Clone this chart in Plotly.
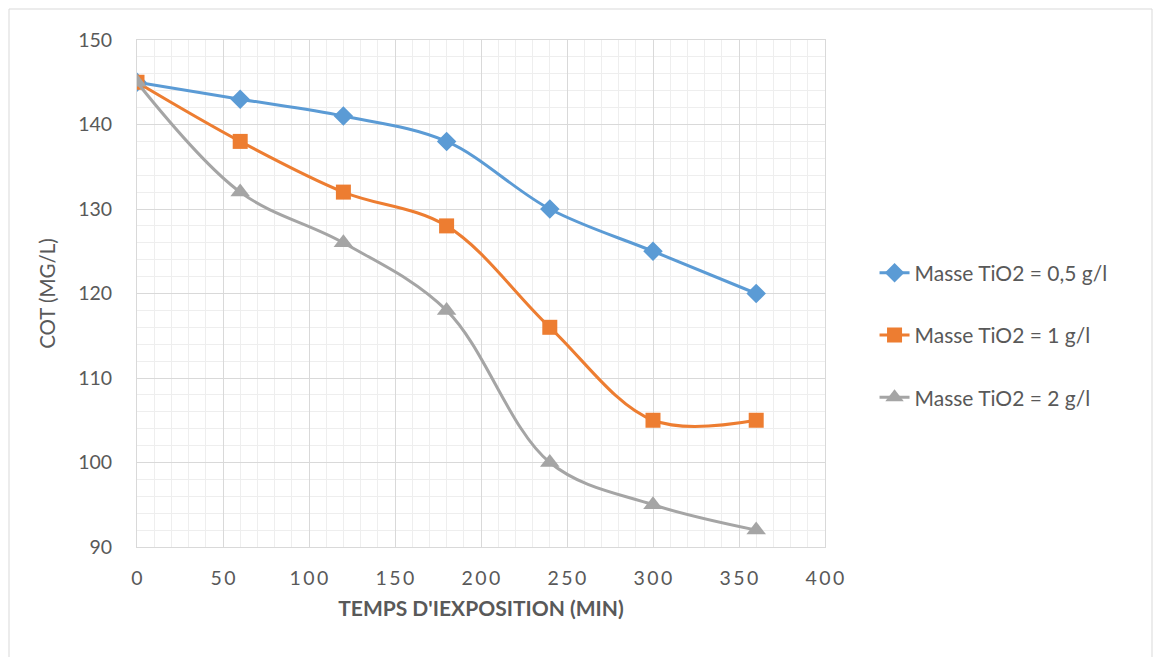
import plotly.graph_objects as go

time_min = [0, 60, 120, 180, 240, 300, 360]
cot_05 = [145, 143, 141, 138, 130, 125, 120]
cot_1 = [145, 138, 132, 128, 116, 105, 105]
cot_2 = [145, 132, 126, 118, 100, 95, 92]

series_names = ["Masse TiO2 = 0,5 g/l", "Masse TiO2 = 1 g/l", "Masse TiO2 = 2 g/l"]
x_tick_vals = [0, 50, 100, 150, 200, 250, 300, 350, 400]
x_tick_labels = ["0", "50", "100", "150", "200", "250", "300", "350", "400"]
y_tick_vals = [90, 100, 110, 120, 130, 140, 150]

FONT = "Lato, Liberation Sans, sans-serif"
TXT = "#595959"

fig = go.Figure()
styles = [
    (cot_05, "#5b9bd5", "diamond", 15),
    (cot_1, "#ed7d31", "square", 15),
    (cot_2, "#a5a5a5", "triangle-up", 17),
]
for i, (vals, col, sym, sz) in enumerate(styles):
    fig.add_trace(go.Scatter(
        x=time_min, y=vals, name=series_names[i], mode="lines+markers",
        line=dict(color=col, width=3, shape="spline", smoothing=1.0),
        marker=dict(symbol=sym, size=sz, color=col),
        legendgroup=f"g{i}",
    ))

spaced = ["\u2009".join(list(t)) for t in x_tick_labels]

fig.update_layout(
    width=1153, height=657,
    margin=dict(l=137, r=328, t=40, b=110),
    paper_bgcolor="white", plot_bgcolor="white",
    font=dict(family=FONT, color=TXT, size=17),
    showlegend=True,
    legend=dict(x=1.072, xanchor="left", y=0.418, yanchor="middle",
                font=dict(size=21, color=TXT), tracegroupgap=32,
                bgcolor="rgba(0,0,0,0)"),
    xaxis=dict(
        range=[0, 400], tickvals=x_tick_vals, ticktext=spaced,
        showgrid=True, gridcolor="#d9d9d9", gridwidth=1,
        minor=dict(dtick=10, showgrid=True, gridcolor="#eeeeee", gridwidth=1),
        showline=True, linecolor="#d9d9d9", mirror=True,
        zeroline=False, ticks="", ticklabelstandoff=14,
        tickfont=dict(size=19.5, color=TXT),
        title=dict(text="<b>TEMPS D'IEXPOSITION (MIN)</b>", font=dict(size=21, color=TXT), standoff=12),
    ),
    yaxis=dict(
        range=[90, 150], tickvals=y_tick_vals,
        showgrid=True, gridcolor="#d9d9d9", gridwidth=1,
        minor=dict(dtick=2, showgrid=True, gridcolor="#eeeeee", gridwidth=1),
        showline=True, linecolor="#d9d9d9", mirror=True,
        zeroline=False, ticks="", ticklabelstandoff=20,
        tickfont=dict(size=19.5, color=TXT),
        title=dict(text="COT (MG/L)", font=dict(size=20.5, color=TXT), standoff=16),
    ),
    shapes=[dict(type="rect", xref="paper", yref="paper",
                 x0=(9 - 137) / 688, x1=(1152 - 137) / 688,
                 y0=(547 - 680) / 507, y1=(547 - 9) / 507,
                 line=dict(color="#d9d9d9", width=1), layer="below")],
)

fig.write_html("out.html")
